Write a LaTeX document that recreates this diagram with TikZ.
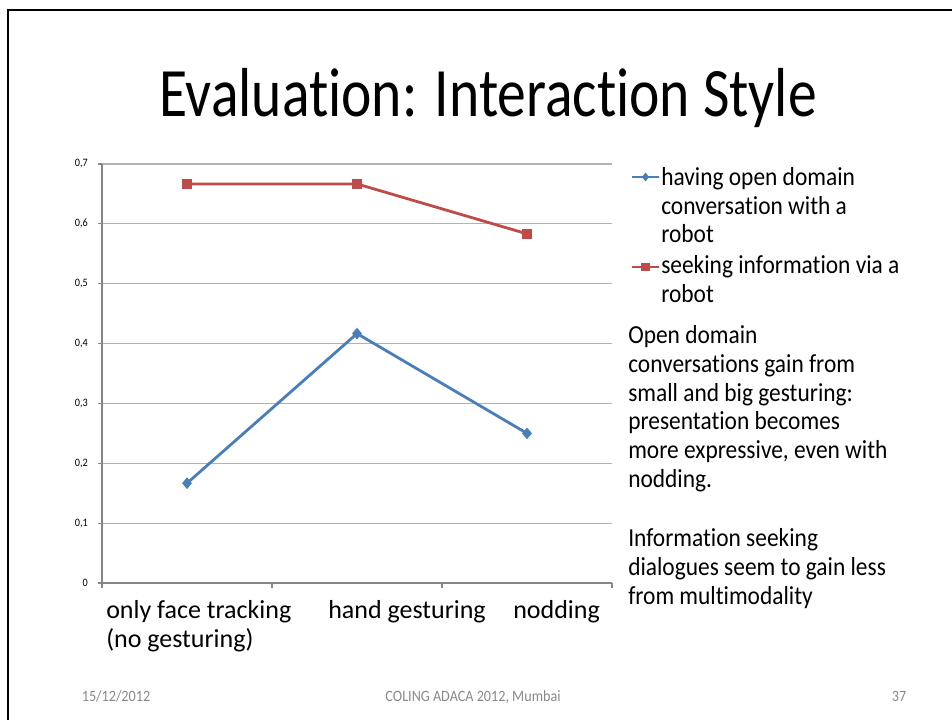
\documentclass[tikz,border=0pt]{standalone}
\usepackage{fontspec}
\setmainfont{Carlito}[FakeStretch=0.9,Ligatures=CommonOff]
\newfontfamily\catfont{Carlito}[Ligatures=CommonOff]
\newfontfamily\titlefont{Carlito}[FakeStretch=0.83,Ligatures=CommonOff]
\usetikzlibrary{shapes.geometric}

\definecolor{convblue}{RGB}{74,126,187}
\definecolor{seekred}{RGB}{190,75,72}
\definecolor{gridgray}{RGB}{178,178,178}
\definecolor{axisgray}{RGB}{134,134,134}
\definecolor{footgray}{RGB}{137,137,137}

\tikzstyle{gridln}=[draw=gridgray,line width=0.8pt]
\tikzstyle{axisln}=[draw=axisgray,line width=0.8pt]
\tikzstyle{bx}=[draw=convblue,line width=2.1pt]
\tikzstyle{rx}=[draw=seekred,line width=2.1pt]
\tikzstyle{bmark}=[diamond,fill=convblue,inner sep=0pt,minimum width=7.5pt,minimum height=9pt]
\tikzstyle{rmark}=[rectangle,fill=seekred,inner sep=0pt,minimum size=7.4pt]
\tikzstyle{vlab}=[anchor=east,inner sep=0pt,font=\fontsize{8.5}{10}\selectfont]
\tikzstyle{catlab}=[anchor=base west,align=left,inner sep=0pt,font=\catfont\fontsize{19.5}{21.75}\selectfont]
\tikzstyle{txtlab}=[anchor=base west,align=left,inner sep=0pt,font=\fontsize{19.5}{21.5}\selectfont]
\tikzstyle{footlab}=[anchor=base,inner sep=0pt,text=footgray,font=\fontsize{11.8}{14}\selectfont]

\def\xo{102}       % chart origin
\def\yo{583}
\def\xcat{170}     % one category wide
\def\ytenth{59.86} % 0.1 high

\begin{document}
\begin{tikzpicture}[x=0.75pt,y=-0.75pt]
	\useasboundingbox (0,0) rectangle (952,720);
	\draw[line width=1.9pt] (8,720) -- (8,10) -- (952,10);
	\node[anchor=base,inner sep=0pt,font=\titlefont\fontsize{52}{60}\selectfont] (title) at (488,117) {Evaluation: Interaction Style};

	% value axis, grid
	\foreach \i in {0,...,7} {
		\draw[axisln] (\xo-4,\yo-\i*\ytenth) -- (\xo,\yo-\i*\ytenth);
		\ifnum\i=0\relax
			\node[vlab] (v\i) at (\xo-14,\yo) {0};
		\else
			\draw[gridln] (\xo,\yo-\i*\ytenth) -- (\xo+3*\xcat,\yo-\i*\ytenth);
			\node[vlab] (v\i) at (\xo-14,\yo-\i*\ytenth) {0,\i};
		\fi
	}
	\draw[axisln] (\xo,\yo-7*\ytenth) -- (\xo,\yo) -- (\xo+3*\xcat,\yo);
	\foreach \k in {0,...,3}
		\draw[axisln] (\xo+\k*\xcat,\yo) -- (\xo+\k*\xcat,\yo+5);

	% categories (base = last line)
	\node[catlab] (cat1) at (106,647) {only face tracking\\(no gesturing)};
	\node[catlab] (cat2) at (328,618) {hand gesturing};
	\node[catlab] (cat3) at (513,618) {nodding};

	% data
	\foreach \v [count=\k] in {1.667,4.167,2.5}
		\coordinate (b\k) at ({\xo+(\k-0.5)*\xcat},{\yo-\v*\ytenth});
	\foreach \v [count=\k] in {6.667,6.667,5.833}
		\coordinate (r\k) at ({\xo+(\k-0.5)*\xcat},{\yo-\v*\ytenth});
	\draw[rx] (r1) -- (r2) -- (r3);
	\draw[bx] (b1) -- (b2) -- (b3);
	\foreach \k in {1,2,3} {
		\node[rmark] (rm\k) at (r\k) {};
		\node[bmark] (bm\k) at (b\k) {};
	}

	% legend
	\coordinate (bkeyL) at (632,177);
	\coordinate (bkeyR) at (659,177);
	\coordinate (rkeyL) at (632,267);
	\coordinate (rkeyR) at (659,267);
	\draw[bx] (bkeyL) -- (bkeyR);
	\draw[rx] (rkeyL) -- (rkeyR);
	\node[bmark,scale=0.75] (bkey) at (645.5,177) {};
	\node[rmark,scale=0.9] (rkey) at (645.5,267) {};
	\node[txtlab] (keyA) at (661,243) {having open domain\\conversation with a\\robot};
	\node[txtlab] (keyB) at (661,302) {seeking information via a\\robot};

	% remarks
	\node[txtlab] (noteA) at (628,487) {Open domain\\conversations gain from\\small and big gesturing:\\presentation becomes\\more expressive, even with\\nodding.};
	\node[txtlab] (noteB) at (628,604) {Information seeking\\dialogues seem to gain less\\from multimodality};

	% footer
	\node[footlab] (date) at (116,701) {15/12/2012};
	\node[footlab] (conf) at (473,701) {COLING ADACA 2012, Mumbai};
	\node[footlab] (page) at (899,701) {37};
\end{tikzpicture}
\end{document}
